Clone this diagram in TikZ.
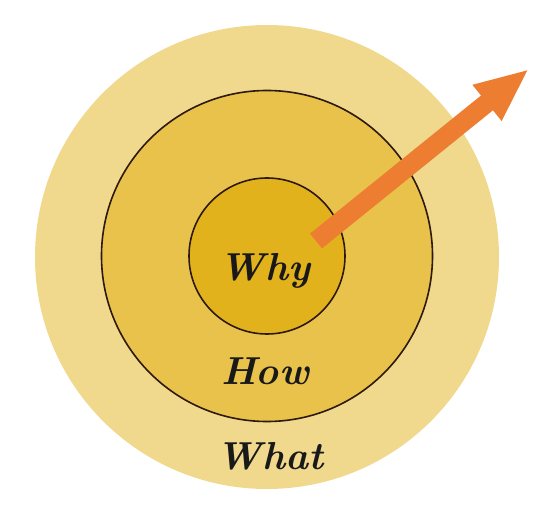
\documentclass[tikz,border=0pt]{standalone}
\usepackage{tikz}
\usetikzlibrary{arrows.meta, positioning}
\usepackage{xcolor}
\definecolor{whatfill}{RGB}{240,217,140}
\definecolor{howfill}{RGB}{232,194,74}
\definecolor{whyfill}{RGB}{226,178,28}
\definecolor{ringline}{RGB}{45,25,15}
\definecolor{marrow}{RGB}{237,125,49}

\begin{document}
\begin{tikzpicture}[x=1pt,y=-1pt,
    ring/.style={circle,inner sep=0pt,draw=ringline,line width=1.6pt},
    word/.style={anchor=base,text=black!90,font=\fontsize{39}{44}\selectfont\bfseries\itshape},
    bigarrow/.style={marrow,line width=19pt,-{Triangle[length=54pt,width=42pt]}}]
  \useasboundingbox (0,0) rectangle (542,513);
  \node[circle,inner sep=0pt,fill=whatfill,minimum size=464pt] (whatring) at (267,257) {};
  \node[ring,fill=howfill,minimum size=331pt] (howring) at (267,256) {};
  \node[ring,fill=whyfill,minimum size=156pt] (whyring) at (267,256) {};
  \coordinate (tail) at (316,241);
  \coordinate (tip) at (529,69);
  \draw[bigarrow] (tail) -- (tip);
  \node[word] (why) at (265,281) {Why};
  \node[word] (how) at (265,385) {How};
  \node[word] (what) at (270,470) {What};
\end{tikzpicture}
\end{document}
